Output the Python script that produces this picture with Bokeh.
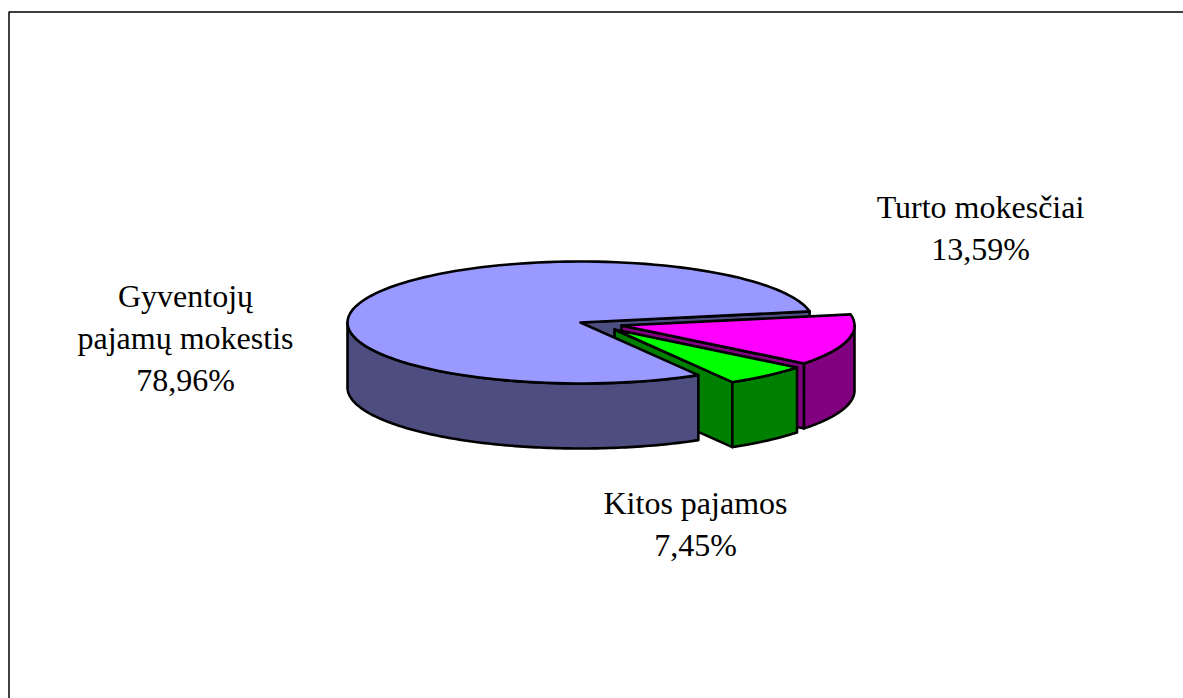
import numpy as np
from bokeh.plotting import figure
from bokeh.models import Range1d, ColumnDataSource
from bokeh.core.properties import value
from bokeh.embed import file_html
from bokeh.resources import INLINE

# --- data ---
label_lines = [["Gyventojų", "pajamų mokestis"], ["Turto mokesčiai"], ["Kitos pajamos"]]
shares = [78.96, 13.59, 7.45]
top_colors = ["#9999FF", "#FF00FF", "#00FF00"]
wall_colors = ["#4D4D80", "#800080", "#008000"]

# --- pie geometry (pixel-like data space) ---
RX, RY, DEPTH = 233, 61, 65
CENTERS = [(580, 322), (621, 325), (614, 329)]
START = 10.5          # angle of the blue / pink boundary, degrees
SQUEEZE = 0.21        # foreshortening of the slice nearest the viewer

sweep = [s * 3.6 for s in shares]
a_pink_end = START - sweep[1]
a_green_end = a_pink_end - sweep[2] * (1 - SQUEEZE)


def rim(c, a0, a1, n=120):
    t = np.radians(np.linspace(a0, a1, n))
    return c[0] + RX * np.cos(t), c[1] - RY * np.sin(t)


p = figure(width=1183, height=698, output_backend="svg", toolbar_location=None,
           x_range=Range1d(0, 1183), y_range=Range1d(698, 0),
           min_border=0, outline_line_color=None)
p.axis.visible = False
p.grid.visible = False
p.background_fill_color = "white"
p.border_fill_color = "white"

# frame of the picture
p.line([8.5, 8.5, 1183], [698, 11.5, 11.5], line_color="black", line_width=1.5)


def poly(x, y, color):
    p.patch(list(x), list(y), fill_color=color, line_color="black", line_width=2.6,
            line_join="round")


def top(c, a0, a1, color):
    x, y = rim(c, a0, a1)
    poly(np.r_[c[0], x], np.r_[c[1], y], color)


def wall(c, a0, a1, color):
    x, y = rim(c, a0, a1)
    poly(np.r_[x, x[::-1]], np.r_[y, y[::-1] + DEPTH], color)


def face(c, a, color):
    x, y = rim(c, a, a, 1)
    poly([c[0], x[0], x[0], c[0]], [c[1], y[0], y[0] + DEPTH, c[1] + DEPTH], color)


# blue: cut face seen through the gap
face(CENTERS[0], START, wall_colors[0])

# pink slice
face(CENTERS[1], a_pink_end, wall_colors[1])
wall(CENTERS[1], 0, a_pink_end, wall_colors[1])
top(CENTERS[1], START, a_pink_end, top_colors[1])

# green slice
face(CENTERS[2], a_green_end, wall_colors[2])
wall(CENTERS[2], a_pink_end, a_green_end, wall_colors[2])
top(CENTERS[2], a_pink_end, a_green_end, top_colors[2])

# blue wall and top go last
wall(CENTERS[0], -180, a_green_end, wall_colors[0])
top(CENTERS[0], START, 360 + a_green_end, top_colors[0])

# labels
anchors = [(185, 295.5), (980, 206), (695, 502)]
LINE = 42
tx, ty, tt = [], [], []
for lines, share, (ax, ay) in zip(label_lines, shares, anchors):
    rows = lines + [f"{share:.2f}%".replace(".", ",")]
    for i, r in enumerate(rows):
        tx.append(ax)
        ty.append(ay + i * LINE)
        tt.append(r)
p.text(x="x", y="y", text="t", source=ColumnDataSource(dict(x=tx, y=ty, t=tt)),
       text_font=value("Liberation Serif"), text_font_size="32px", text_color="black",
       text_align="center", text_baseline="alphabetic")

open("out.html", "w").write(file_html(p, INLINE))
